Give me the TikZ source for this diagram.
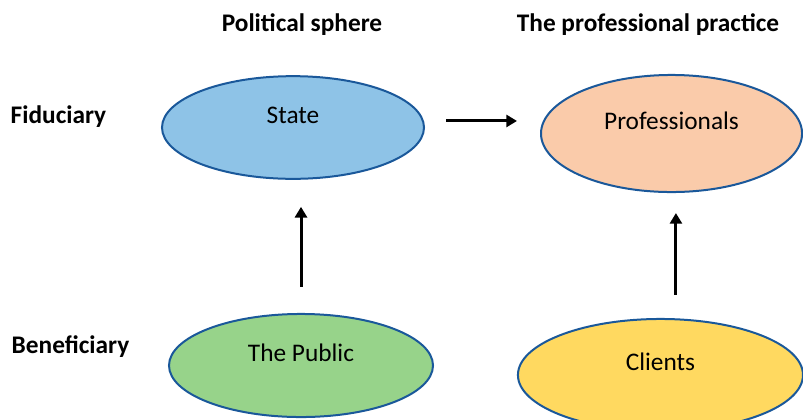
\documentclass[tikz,border=0pt]{standalone}
\usepackage{fontspec}
\setmainfont{Carlito}
\usetikzlibrary{shapes.geometric,positioning,arrows.meta}

\definecolor{edgeblue}{RGB}{26,88,154}
\definecolor{stateblue}{RGB}{142,195,231}
\definecolor{profpeach}{RGB}{250,203,170}
\definecolor{publicgreen}{RGB}{151,211,138}
\definecolor{clientgold}{RGB}{255,217,96}

\tikzset{
	actor/.style={ellipse, draw=edgeblue, line width=1.5pt, inner sep=0pt,
		text height=13pt, text depth=19pt, font=\fontsize{19}{22}\selectfont},
	head/.style={anchor=base, font=\fontsize{19}{22}\selectfont\bfseries},
	role/.style={anchor=base west, font=\fontsize{19}{22}\selectfont\bfseries},
}

\begin{document}
\begin{tikzpicture}[x=0.75pt,y=-0.75pt,>={Triangle[length=8pt,width=9pt]},on grid,auto]
	\useasboundingbox (0,0) rectangle (803,419);
	
	% the four parties
	\node[actor, fill=stateblue, minimum width=196.5pt, minimum height=77pt] (A_state) at (293,127.5) {State};
	\node[actor, fill=profpeach, minimum width=195.8pt, minimum height=87.8pt] (A_prof) [below right=4.5pt and 283.9pt of A_state] {Professionals};
	\node[actor, fill=publicgreen, minimum width=198pt, minimum height=77.3pt] (A_public) [below right=178.5pt and 6pt of A_state] {The Public};
	\node[actor, fill=clientgold, minimum width=213.8pt, minimum height=84pt] (A_client) [below right=7.1pt and 269.6pt of A_public] {Clients};
	
	% column and row headings
	\node[head] (H_pol) at (302,31) {Political sphere};
	\node[head] (H_pro) at (648,31) {The professional practice};
	\node[role] (R_fid) at (6,123) {Fiduciary};
	\node[role] (R_ben) at (7,353) {Beneficiary};
	
	% delegation arrows
	\path[->, line width=2.25pt]
	([yshift=4.9pt]A_state.east) edge [shorten <=15.75pt, shorten >=17.25pt] ([yshift=4.9pt]A_state.east -| A_prof.west)
	(A_public.north) edge [shorten <=19.5pt, shorten >=20.25pt] (A_public.north |- A_state.south)
	([xshift=11.6pt]A_client.north) edge [shorten <=17.25pt, shorten >=15pt] ([xshift=11.6pt]A_client.north |- A_prof.south);
\end{tikzpicture}
\end{document}
